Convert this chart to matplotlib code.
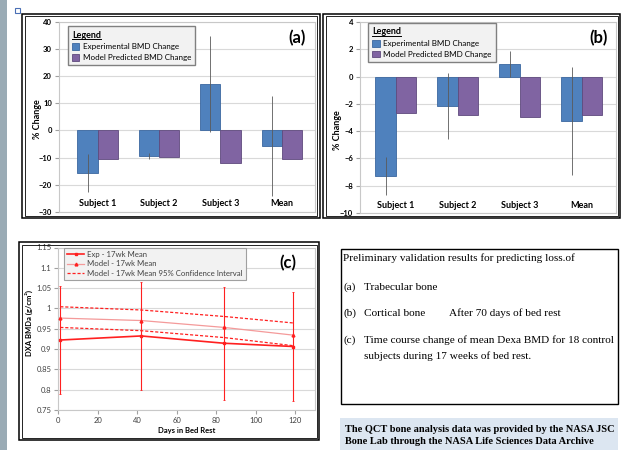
import matplotlib
matplotlib.use("Agg")
import matplotlib.pyplot as plt
import numpy as np
from matplotlib.patches import Rectangle
from matplotlib.lines import Line2D
from matplotlib.ticker import FuncFormatter

# --- data ---
categories = ["Subject 1", "Subject 2", "Subject 3", "Mean"]

# (a) trabecular bone, % change
trab_exp = [-15.6, -9.3, 17.1, -5.6]
trab_exp_err = [7.0, 1.1, 17.5, 18.4]
trab_model = [-10.4, -9.9, -12.0, -10.4]

# (b) cortical bone, % change
cort_exp = [-7.31, -2.16, 0.91, -3.24]
cort_exp_err = [1.4, 2.4, 0.97, 3.95]
cort_model = [-2.70, -2.82, -2.99, -2.82]

# (c) DXA BMD time course
days = [1, 42, 84, 119]
exp_mean = [0.922, 0.932, 0.914, 0.906]
exp_err = [0.133, 0.134, 0.139, 0.134]
model_mean = [0.976, 0.970, 0.953, 0.934]
ci_upper = [1.004, 0.996, 0.980, 0.964]
ci_lower = [0.953, 0.945, 0.928, 0.908]

caption_lines = [
    "Preliminary validation results for predicting loss.of",
    "(a)",
    "(b)",
    "(c)",
]
caption_items = [
    "Trabecular bone",
    "Cortical bone",
    "Time course change of mean Dexa BMD for 18 control",
    "subjects during 17 weeks of bed rest.",
]
footer_lines = [
    "The QCT bone analysis data was provided by the NASA JSC",
    "Bone Lab through the NASA Life Sciences Data Archive",
]

W, H = 621, 450
FONT = "Lato"
SERIF = "Liberation Serif"
BLUE, BLUE_EDGE = "#4f81bd", "#3b67a0"
PURPLE, PURPLE_EDGE = "#8064a2", "#5f4a7d"
RED = "#ff2020"
GRID = "#d9d9d9"


def fig_rect(x0, y0, x1, y1):
    """pixel box (top-left origin) -> figure fraction [l, b, w, h]"""
    return [x0 / W, 1 - y1 / H, (x1 - x0) / W, (y1 - y0) / H]


def box(fig, x0, y0, x1, y1, lw=1.0, fc="none", ec="black"):
    l, b, w, h = fig_rect(x0, y0, x1, y1)
    fig.add_artist(Rectangle((l, b), w, h, transform=fig.transFigure,
                             fill=fc != "none", facecolor=fc, edgecolor=ec, linewidth=lw))


def double_box(fig, x0, y0, x1, y1):
    box(fig, x0, y0, x1, y1, lw=1.1)
    box(fig, x0 + 2.5, y0 + 2.5, x1 - 2.5, y1 - 2.5, lw=0.6)


def style_axes(ax):
    for s in ax.spines.values():
        s.set_color("#c8c8c8")
        s.set_linewidth(0.8)
    ax.grid(axis="y", color=GRID, linewidth=0.8, zorder=0)
    ax.set_axisbelow(True)


def bar_panel(ax, exp, err, model, ylim, step, xlim, tag, leg_anchor, ylab_pos):
    x = np.arange(len(categories))
    w = 0.33
    ax.bar(x - w / 2, exp, w, color=BLUE, edgecolor=BLUE_EDGE, linewidth=0.6,
           zorder=3, label="Experimental BMD Change")
    ax.bar(x + w / 2, model, w, color=PURPLE, edgecolor=PURPLE_EDGE, linewidth=0.6,
           zorder=3, label="Model Predicted BMD Change")
    ax.errorbar(x - w / 2, exp, yerr=err, fmt="none", ecolor="#5a5a5a",
                elinewidth=0.6, capsize=0, zorder=4)
    style_axes(ax)
    ax.set_xlim(*xlim)
    ax.set_ylim(*ylim)
    ax.set_yticks(np.arange(ylim[0], ylim[1] + step / 2, step))
    ax.tick_params(axis="y", length=3, color="#a0a0a0", labelsize=5.5, pad=2)
    for t in ax.get_yticklabels():
        t.set_fontweight("bold")
        t.set_fontfamily(FONT)
    ax.set_xticks(x)
    ax.set_xticklabels(categories, fontfamily=FONT, fontweight="bold", fontsize=6.5)
    ax.tick_params(axis="x", length=0, pad=-9)
    ax.set_ylabel("% Change", fontfamily=FONT, fontweight="bold", fontsize=6.5)
    ax.yaxis.set_label_coords(*ylab_pos)
    ax.text(0.93, 0.915, tag, transform=ax.transAxes, ha="center", va="center",
            fontfamily=FONT, fontweight="bold", fontsize=12)
    leg = ax.legend(title="Legend", loc="upper left", bbox_to_anchor=leg_anchor,
                    borderaxespad=0, fancybox=False, framealpha=1,
                    facecolor="#f2f2f2", edgecolor="#808080", alignment="left",
                    prop={"family": FONT, "size": 5.8},
                    title_fontproperties={"family": FONT, "weight": "bold", "size": 6.5},
                    handlelength=0.9, handleheight=0.9, handletextpad=0.4,
                    borderpad=0.55, labelspacing=0.45)
    leg.get_frame().set_linewidth(1.0)
    return leg


fig = plt.figure(figsize=(W / 100, H / 100), dpi=100)
fig.patch.set_facecolor("white")

# grey slide margin and tiny icon
box(fig, 0, 0, 7, H, lw=0, fc="#9aabb5", ec="#9aabb5")
box(fig, 15, 8, 20, 13, lw=0.8, ec="#4a6fb5")

# panel frames
double_box(fig, 22, 14, 320, 218)
double_box(fig, 323, 14, 620, 218)
double_box(fig, 19, 242, 319, 440)

# (a) and (b)
ax_a = fig.add_axes(fig_rect(59, 21.7, 315, 212))
leg_a = bar_panel(ax_a, trab_exp, trab_exp_err, trab_model, (-30, 40), 10,
                  (-0.63, 3.54), "(a)", (0.034, 0.977), (-0.066, 0.49))
ax_b = fig.add_axes(fig_rect(360, 22, 616, 213))
leg_b = bar_panel(ax_b, cort_exp, cort_exp_err, cort_model, (-10, 4), 2,
                  (-0.58, 3.55), "(b)", (0.031, 0.995), (-0.07, 0.435))

# (c) time course
ax_c = fig.add_axes(fig_rect(58.3, 247.5, 315, 409.8))
style_axes(ax_c)
exp_art = ax_c.errorbar(days, exp_mean, yerr=exp_err, color=RED, linewidth=1.2, marker="s",
                        markersize=2, elinewidth=0.8, capsize=1, capthick=0.6, zorder=4)
model_line, = ax_c.plot(days, model_mean, color="#f49a9a", linewidth=0.9, marker="^",
                        markersize=2, markeredgecolor=RED, markerfacecolor=RED, zorder=3)
ci_line, = ax_c.plot(days, ci_upper, color=RED, linewidth=0.9, linestyle=(0, (2.5, 1.5)), zorder=3)
ax_c.plot(days, ci_lower, color=RED, linewidth=0.9, linestyle=(0, (2.5, 1.5)), zorder=3)
ax_c.set_xlim(0, 130)
ax_c.set_ylim(0.75, 1.15)
ax_c.set_xticks(np.arange(0, 121, 20))
ax_c.set_yticks(np.arange(0.75, 1.151, 0.05))
ax_c.yaxis.set_major_formatter(FuncFormatter(lambda v, p: f"{v:g}"))
ax_c.tick_params(length=3, color="#a0a0a0", labelsize=5.5, labelcolor="#404040", pad=2)
for t in ax_c.get_xticklabels() + ax_c.get_yticklabels():
    t.set_fontfamily(FONT)
ax_c.set_xlabel("Days in Bed Rest", fontfamily=FONT, fontweight="bold", fontsize=5.5)
ax_c.xaxis.set_label_coords(0.5, -0.105)
ax_c.set_ylabel("DXA BMDa (g/cm²)", fontfamily=FONT, fontweight="bold", fontsize=5.5)
ax_c.yaxis.set_label_coords(-0.097, 0.535)
ax_c.text(0.895, 0.905, "(c)", transform=ax_c.transAxes, ha="center", va="center",
          fontfamily=FONT, fontweight="bold", fontsize=12)
leg_c = ax_c.legend([exp_art[0], model_line, ci_line],
                    ["Exp - 17wk Mean", "Model - 17wk Mean",
                     "Model - 17wk Mean 95% Confidence Interval"],
                    loc="upper left", bbox_to_anchor=(0.022, 0.997), borderaxespad=0,
                    fancybox=False, framealpha=1, facecolor="#f2f2f2", edgecolor="#a0a0a0",
                    prop={"family": FONT, "size": 5.6}, handlelength=2.2,
                    handletextpad=0.4, borderpad=0.4, labelspacing=0.3)
leg_c.get_frame().set_linewidth(0.8)
for t in leg_c.get_texts():
    t.set_color("#404040")

# caption box
box(fig, 341, 249, 618, 404, lw=1.0)
fig.text(343 / W, 1 - 258 / H, caption_lines[0], fontfamily=SERIF, fontsize=8.1, va="center")
rows_y = [287, 313, 340]
for tag, item, y in zip(caption_lines[1:], caption_items, rows_y):
    fig.text(343 / W, 1 - y / H, tag, fontfamily=SERIF, fontsize=8.1, va="center")
    fig.text(364 / W, 1 - y / H, item, fontfamily=SERIF, fontsize=8.1, va="center")
fig.text(449 / W, 1 - 313 / H, "After 70 days of bed rest", fontfamily=SERIF, fontsize=8.1, va="center")
fig.text(364 / W, 1 - 356 / H, caption_items[3], fontfamily=SERIF, fontsize=8.1, va="center")

# footer
box(fig, 340, 418, 618, 452, lw=0, fc="#dce6f1", ec="#dce6f1")
for line, y in zip(footer_lines, [429, 441]):
    fig.text(345 / W, 1 - y / H, line, fontfamily=SERIF, fontweight="bold", fontsize=7.5, va="center")

# underline the legend titles
fig.canvas.draw()
inv = fig.transFigure.inverted()
for leg in (leg_a, leg_b):
    bb = leg.get_title().get_window_extent().transformed(inv)
    fig.add_artist(Line2D([bb.x0, bb.x1], [bb.y0 + 0.001, bb.y0 + 0.001],
                          transform=fig.transFigure, color="black", linewidth=0.7))

fig.savefig("out.png", dpi=100)
plt.close(fig)
